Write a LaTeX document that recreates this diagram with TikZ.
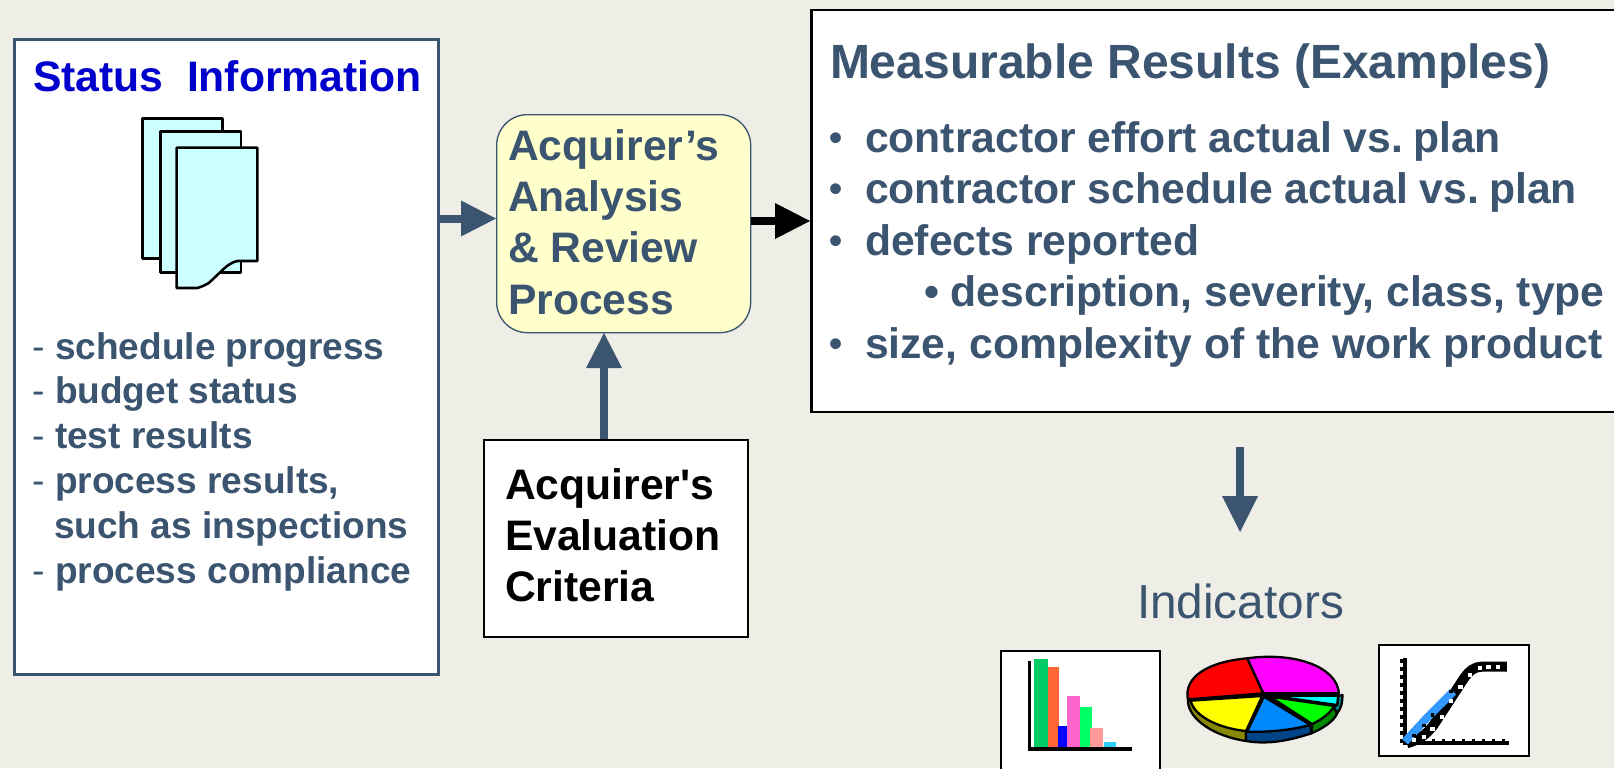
\documentclass[tikz,border=0pt]{standalone}
\usepackage{fontspec}
\setmainfont{Liberation Sans}
\definecolor{bgc}{HTML}{EEEDE6}
\definecolor{slate}{HTML}{3B5470}
\definecolor{stat}{HTML}{0000CC}
\definecolor{pagec}{HTML}{CCFFFF}
\definecolor{procc}{HTML}{FFFFCC}
\definecolor{barA}{HTML}{00CC66}
\definecolor{barB}{HTML}{FF6633}
\definecolor{barC}{HTML}{0000FF}
\definecolor{barD}{HTML}{FF66CC}
\definecolor{barE}{HTML}{00FF66}
\definecolor{barF}{HTML}{FF9999}
\definecolor{barG}{HTML}{33CCFF}
\definecolor{sideY}{HTML}{888800}
\definecolor{sideB}{HTML}{004488}
\definecolor{sideG}{HTML}{008800}
\definecolor{sideC}{HTML}{008888}
\definecolor{pieM}{HTML}{FF00FF}
\definecolor{pieR}{HTML}{FF0000}
\definecolor{pieY}{HTML}{FFFF00}
\definecolor{pieB}{HTML}{0088FF}
\definecolor{pieG}{HTML}{00FF00}
\definecolor{pieC}{HTML}{00FFFF}
\definecolor{lineB}{HTML}{3399FF}
\tikzset{
  x=0.75pt,y=-0.75pt,
  txt/.style={font=\fontsize{#1}{#1}\selectfont\bfseries,text=slate,anchor=base west,inner sep=0pt,outer sep=0pt},
  txt/.default=32,
  dashtxt/.style={font=\fontsize{28}{28}\selectfont,text=slate,anchor=base west,inner sep=0pt,outer sep=0pt},
  bul/.style={font=\fontsize{28}{28}\selectfont\bfseries,text=slate,anchor=base west,inner sep=0pt,outer sep=0pt},
  plainbox/.style={draw=black,fill=white,line width=2pt,inner sep=0pt},
  shaft/.style={line width=6pt,draw=slate},
  pagesheet/.style={draw=black,fill=pagec,line width=1.9pt,line join=round},
  ol/.style={draw=black,line width=1.7pt,line join=round},
}
\newcommand{\boxat}[6]{\node[#1,anchor=north west,minimum width=#4*0.75pt,minimum height=#5*0.75pt] (#6) at (#2,#3) {};}
\newcommand{\barat}[5]{\fill[#1] (#2,#3) rectangle (#4,#5);}
\begin{document}
\begin{tikzpicture}
\useasboundingbox (0,0) rectangle (1614,768);
\clip (0,0) rectangle (1614,768);
\fill[bgc] (0,0) rectangle (1614,768);
% boxes
\boxat{plainbox,draw=slate}{13}{38}{424}{635}{status}
\boxat{plainbox}{810}{8.5}{900}{402}{results}
\boxat{plainbox}{482.5}{438.5}{264}{197}{criteria}
\node[draw=slate,fill=procc,line width=1pt,rounded corners=23pt,anchor=north west,minimum width=254*0.75pt,minimum height=218*0.75pt,inner sep=0pt] (proc) at (496,114) {};
% status
\node[txt=32,text=stat] (st) at (33,91) {Status\hspace{0.556em}Information};
\begin{scope}[shift={(120,100)},x=0.25pt,y=-0.25pt]
\draw[pagesheet] (67,55) -- (308,55) -- (308,475) -- (67,475) -- cycle;
\draw[pagesheet] (122,95) -- (363,95) -- (363,517) -- (122,517) -- cycle;
\draw[pagesheet] (170,143) -- (412,143) -- (412,483) -- (352,483) .. controls (320,490) and (300,520) .. (265,550) .. controls (255,556) and (245,560) .. (232,564) -- (170,564) -- cycle;
\end{scope}
% status list
\node[dashtxt] (d1) at (32,359) {-};
\node[txt=27.8] (l1) at (55,359) {schedule progress};
\node[dashtxt] (d2) at (32,403) {-};
\node[txt=27.8] (l2) at (55,403) {budget status};
\node[dashtxt] (d3) at (32,448) {-};
\node[txt=27.8] (l3) at (55,448) {test results};
\node[dashtxt] (d4) at (32,493) {-};
\node[txt=27.8] (l4) at (55,493) {process results,};
\node[txt=27.8] (l5) at (54,538) {such as inspections};
\node[dashtxt] (d5) at (32,583) {-};
\node[txt=27.8] (l6) at (55,583) {process compliance};
% process text
\node[txt] (p1) at (508,160.5) {Acquirer’s};
\node[txt] (p2) at (508,211.7) {Analysis};
\node[txt] (p3) at (508,262.3) {\&\ Review};
\node[txt] (p4) at (508,314.3) {Process};
% criteria
\node[txt,text=black] (c1) at (505,499) {Acquirer\textquotesingle s};
\node[txt,text=black] (c2) at (505,550) {Evaluation};
\node[txt,text=black] (c3) at (505,601.5) {Criteria};
% results
\node[txt=36] (r0) at (830,78) {Measurable Results (Examples)};
\node[bul] (ba) at (829.5,150) {•};
\node[txt] (ra) at (865,152) {contractor effort actual vs.\kern-0.04em\ plan};
\node[bul] (bb) at (829.5,201) {•};
\node[txt] (rb) at (865,203) {contractor schedule actual vs.\kern-0.04em\ plan};
\node[bul] (bc) at (829.5,253.5) {•};
\node[txt] (rc) at (865,255.5) {defects reported};
\node[txt] (rd) at (924,306) {•\hspace{0.28em}description, severity, class, type};
\node[bul] (be) at (829.5,356) {•};
\node[txt] (re) at (865,358) {size, complexity of the work product};
% arrows
\coordinate (a1s) at (status.east|-0,218.5);
\coordinate (a1e) at (proc.west|-0,218.5);
\draw[shaft] (a1s) -- (470,218.5);
\fill[slate] (a1e) -- (461,200.5) -- (461,236.5) -- cycle;
\coordinate (a2s) at (proc.east|-0,221);
\coordinate (a2e) at (results.west|-0,221);
\draw[line width=6pt] (a2s) -- (780,221);
\fill[black] (a2e) -- (775,203) -- (775,239) -- cycle;
\coordinate (a3s) at (604,439);
\coordinate (a3e) at (604,333);
\draw[shaft] (a3s) -- (604,360);
\fill[slate] (a3e) -- (586,368) -- (622,368) -- cycle;
\coordinate (a4s) at (1240,447);
\coordinate (a4e) at (1240,532);
\draw[shaft] (a4s) -- (1240,500);
\fill[slate] (a4e) -- (1222,496) -- (1258,496) -- cycle;
% indicators
\node[font=\fontsize{35.8}{36}\selectfont,text=slate,inner sep=0pt,anchor=base] (ind) at (1240.5,618) {Indicators};
\boxat{draw=black,fill=white,line width=1.5pt,inner sep=0pt}{1000}{650}{159}{140}{chA}
\boxat{draw=black,fill=white,line width=1.5pt,inner sep=0pt}{1377.5}{644}{150}{110.5}{chB}
\begin{scope}[shift={(980,630)},x=0.26786pt,y=-0.25pt]
% bar chart
\barat{barA}{151}{87}{189}{350}
\barat{barB}{189}{111}{221}{350}
\barat{barC}{218}{288}{244}{350}
\barat{barD}{244}{198}{280}{350}
\barat{barE}{280}{231}{314}{350}
\barat{barF}{308}{294}{344}{350}
\barat{barG}{347}{336}{381}{350}
\fill[black] (133,92) rectangle (144,362);
\fill[black] (136,351) rectangle (425,363);
% pie
\filldraw[ol,fill=sideY] (582,210) .. controls (582,270) and (660,320) .. (745,333) -- (745,303) .. controls (670,290) and (600,260) .. (590,212) -- cycle;
\filldraw[ol,fill=sideB] (745,333) .. controls (810,345) and (870,330) .. (928,310) -- (925,285) .. controls (870,300) and (810,305) .. (745,305) -- cycle;
\filldraw[ol,fill=sideG] (928,310) .. controls (960,295) and (990,275) .. (1000,250) -- (990,230) .. controls (970,255) and (950,270) .. (930,282) -- cycle;
\filldraw[ol,fill=sideC] (1000,250) .. controls (1012,235) and (1015,215) .. (1015,195) -- (1003,198) -- (1000,225) -- (990,230) -- cycle;
\fill[black] (793,190) -- (1005,190) -- (1003,225) -- (930,284) -- (745,305) -- (590,212) -- cycle;
\filldraw[ol,fill=pieM] (793,190) -- (748,85) .. controls (880,65) and (1000,110) .. (1005,190) -- cycle;
\filldraw[ol,fill=pieR] (793,190) -- (748,85) .. controls (640,95) and (570,140) .. (582,208) -- cycle;
\filldraw[ol,fill=pieY] (790,198) -- (590,212) .. controls (600,260) and (670,295) .. (745,303) -- cycle;
\filldraw[ol,fill=pieB] (795,200) -- (748,305) .. controls (810,307) and (870,300) .. (925,285) -- cycle;
\filldraw[ol,fill=pieG] (812,200) -- (930,282) .. controls (955,270) and (980,250) .. (992,228) -- cycle;
\filldraw[ol,fill=pieC] (815,197) -- (1003,197) -- (1000,225) -- cycle;
% line chart
\fill[black] (1183,85) rectangle (1195,345);
\fill[black] (1190,333) rectangle (1480,345);
\draw[black,line width=1.6pt,dash pattern=on 3pt off 3pt] (1180,88) -- (1180,340);
\draw[black,line width=1.6pt,dash pattern=on 1.8pt off 5.7pt] (1210,331) -- (1480,331);
\draw[black,line width=7.5pt,line join=round] (1195,340) .. controls (1225,330) and (1245,320) .. (1270,285) -- (1355,145) .. controls (1370,122) and (1385,110) .. (1405,110) -- (1475,110);
\draw[lineB,line width=6pt] (1190,335) -- (1250,265) -- (1325,185);
\foreach \qx/\qy in {1215/330,1243/320,1267/298,1293/262,1318/212,1345/170,1372/135,1399/113,1424/110,1451/110}{
  \fill[white] (\qx-6,\qy-6) rectangle (\qx+6,\qy+6);
}
\foreach \qx/\qy in {1215/316,1243/287,1267/255,1318/185}{
  \fill[black] (\qx-5,\qy-5) rectangle (\qx+5,\qy+5);
}
\end{scope}
\end{tikzpicture}
\end{document}
